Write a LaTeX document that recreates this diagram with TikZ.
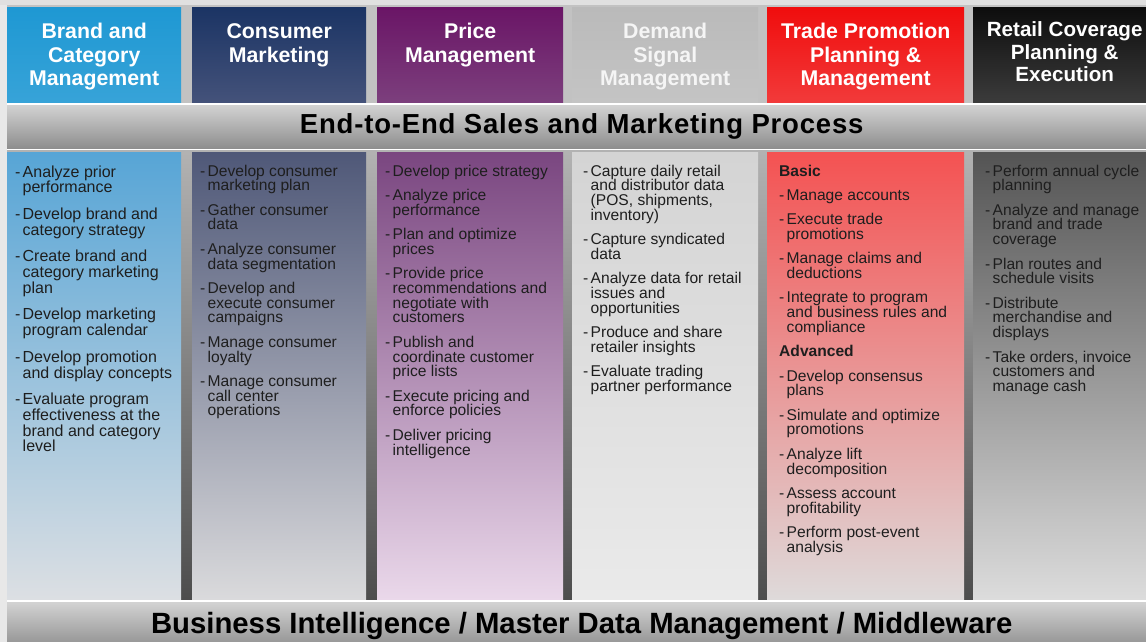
\documentclass[tikz,border=0pt]{standalone}
\usepackage{fontspec}
\setmainfont{Liberation Sans}
\usepackage{tikz}
\usetikzlibrary{positioning}

\definecolor{brandhead}{RGB}{30,152,211}
\definecolor{brandheadlow}{RGB}{55,163,216}
\definecolor{conshead}{RGB}{27,52,100}
\definecolor{consheadlow}{RGB}{68,82,122}
\definecolor{pricehead}{RGB}{106,21,102}
\definecolor{priceheadlow}{RGB}{124,63,125}
\definecolor{demandhead}{RGB}{186,186,186}
\definecolor{demandheadlow}{RGB}{196,196,196}
\definecolor{tradehead}{RGB}{240,13,13}
\definecolor{tradeheadlow}{RGB}{242,58,58}
\definecolor{retailhead}{RGB}{13,13,13}
\definecolor{retailheadlow}{RGB}{59,59,59}
\definecolor{brandbody}{RGB}{87,165,214}
\definecolor{brandbodylow}{RGB}{220,223,227}
\definecolor{consbody}{RGB}{79,88,120}
\definecolor{consbodylow}{RGB}{218,218,220}
\definecolor{pricebody}{RGB}{122,70,128}
\definecolor{pricebodylow}{RGB}{234,216,234}
\definecolor{demandbody}{RGB}{212,212,212}
\definecolor{demandbodylow}{RGB}{234,234,234}
\definecolor{tradebody}{RGB}{244,82,82}
\definecolor{tradebodymid}{RGB}{232,180,180}
\definecolor{tradebodylow}{RGB}{222,218,218}
\definecolor{retailbody}{RGB}{84,84,84}
\definecolor{retailbodymid}{RGB}{190,190,190}
\definecolor{retailbodylow}{RGB}{220,220,220}
\definecolor{ink}{RGB}{30,30,30}

\newlength{\itmgap}
\setlength{\itmgap}{9.5pt}
\newcommand{\itm}[1]{\hangindent=7.5pt\hangafter=1\noindent\makebox[7.5pt][l]{-}#1\par\vspace{\itmgap}}
\newcommand{\sect}[1]{\noindent\textbf{#1}\par\vspace{\itmgap}}
\lineskiplimit=-10pt

\tikzstyle{colbox} = [rectangle, inner sep=0pt, anchor=north west]
\tikzstyle{headbox} = [colbox, minimum height=95pt]
\tikzstyle{bodybox} = [colbox, minimum height=447pt]
\tikzstyle{headtitle} = [inner sep=0pt, anchor=base, text=white,
    font=\fontsize{21.3}{23.5}\selectfont\bfseries]
\tikzstyle{bodytext} = [inner sep=0pt, anchor=base west, text=ink,
    font=\fontsize{15.6}{14.8}\selectfont]
\tikzstyle{band} = [rectangle, inner sep=0pt, anchor=north west, minimum width=1149pt,
    top color=black!17, bottom color=black!45, text=black]

\begin{document}
\begin{tikzpicture}[x=1pt,y=-1pt]
                \useasboundingbox (0,0) rectangle (1146,642);
                \clip (0,0) rectangle (1146,642);
                \fill[black!24] (0,0) rectangle (1156,104);
                \fill[black!12] (0,0) rectangle (1156,5);
                \shade[top color=black!30, bottom color=black!70] (0,150) rectangle (1156,601);
                \fill[black!9] (0,5) rectangle (7,642);

                \node[headbox, minimum width=174pt, top color=brandhead, bottom color=brandheadlow] (h1) at (7,7) {};
                \node[headbox, minimum width=174pt, top color=conshead, bottom color=consheadlow] (h2) at (192,7) {};
                \node[headbox, minimum width=186pt, top color=pricehead, bottom color=priceheadlow] (h3) at (377,7) {};
                \node[headbox, minimum width=186pt, top color=demandhead, bottom color=demandheadlow] (h4) at (572,7) {};
                \node[headbox, minimum width=197pt, top color=tradehead, bottom color=tradeheadlow] (h5) at (767,7) {};
                \node[headbox, minimum width=183pt, top color=retailhead, bottom color=retailheadlow] (h6) at (973,7) {};

                \node[headtitle] (t1) at ([yshift=-32pt]h1.north) {\begin{minipage}[t]{174pt}\centering Brand and\\Category\\Management\end{minipage}};
                \node[headtitle] (t2) at ([yshift=-32pt]h2.north) {\begin{minipage}[t]{174pt}\centering Consumer\\Marketing\end{minipage}};
                \node[headtitle] (t3) at ([yshift=-32pt]h3.north) {\begin{minipage}[t]{186pt}\centering Price\\Management\end{minipage}};
                \node[headtitle, text=white!96!black] (t4) at ([yshift=-32pt]h4.north) {\begin{minipage}[t]{186pt}\centering Demand\\Signal\\Management\end{minipage}};
                \node[headtitle] (t5) at ([yshift=-32pt]h5.north) {\begin{minipage}[t]{197pt}\centering Trade Promotion\\Planning \&\\Management\end{minipage}};
                \node[headtitle, font=\fontsize{20.6}{22.5}\selectfont\bfseries] (t6) at ([yshift=-30pt]h6.north) {\begin{minipage}[t]{183pt}\centering Retail Coverage\\Planning \&\\Execution\end{minipage}};

                \node[band, minimum height=45pt, font=\fontsize{27.5}{30}\selectfont\bfseries\addfontfeature{LetterSpace=3}] (proc) at (7,104) {End-to-End Sales and Marketing Process};
                \draw[white, line width=1.2pt] (proc.north west) -- (proc.north east);
                \draw[white, line width=1.2pt] (proc.south west) -- (proc.south east);

                \node[bodybox, minimum width=174pt, top color=brandbody, bottom color=brandbodylow] (b1) at (7,152) {};
                \node[bodybox, minimum width=174pt, top color=consbody, bottom color=consbodylow] (b2) at (192,152) {};
                \node[bodybox, minimum width=186pt, top color=pricebody, bottom color=pricebodylow] (b3) at (377,152) {};
                \node[bodybox, minimum width=186pt, top color=demandbody, bottom color=demandbodylow] (b4) at (572,152) {};
                \node[bodybox, minimum width=197pt, top color=tradebody, middle color=tradebodymid, bottom color=tradebodylow] (b5) at (767,152) {};
                \node[bodybox, minimum width=183pt, top color=retailbody, middle color=retailbodymid, bottom color=retailbodylow] (b6) at (973,152) {};

                \node[bodytext, font=\fontsize{16}{15.7}\selectfont] (l1) at ([xshift=8pt,yshift=-25pt]b1.north west) {%
                    \begin{minipage}[t]{200pt}\setlength{\itmgap}{11pt}
                        \itm{Analyze prior\\performance}
                        \itm{Develop brand and\\category strategy}
                        \itm{Create brand and\\category marketing\\plan}
                        \itm{Develop marketing\\program calendar}
                        \itm{Develop promotion\\and display concepts}
                        \itm{Evaluate program\\effectiveness at the\\brand and category\\level}
                    \end{minipage}
                };
                \node[bodytext] (l2) at ([xshift=8pt,yshift=-24pt]b2.north west) {%
                    \begin{minipage}[t]{200pt}
                        \itm{Develop consumer\\marketing plan}
                        \itm{Gather consumer\\data}
                        \itm{Analyze consumer\\data segmentation}
                        \itm{Develop and\\execute consumer\\campaigns}
                        \itm{Manage consumer\\loyalty}
                        \itm{Manage consumer\\call center\\operations}
                    \end{minipage}
                };
                \node[bodytext] (l3) at ([xshift=8pt,yshift=-24pt]b3.north west) {%
                    \begin{minipage}[t]{200pt}
                        \itm{Develop price strategy}
                        \itm{Analyze price\\performance}
                        \itm{Plan and optimize\\prices}
                        \itm{Provide price\\recommendations and\\negotiate with\\customers}
                        \itm{Publish and\\coordinate customer\\price lists}
                        \itm{Execute pricing and\\enforce policies}
                        \itm{Deliver pricing\\intelligence}
                    \end{minipage}
                };
                \node[bodytext] (l4) at ([xshift=11pt,yshift=-24pt]b4.north west) {%
                    \begin{minipage}[t]{200pt}
                        \itm{Capture daily retail\\and distributor data\\(POS, shipments,\\inventory)}
                        \itm{Capture syndicated\\data}
                        \itm{Analyze data for retail\\issues and\\opportunities}
                        \itm{Produce and share\\retailer insights}
                        \itm{Evaluate trading\\partner performance}
                    \end{minipage}
                };
                \node[bodytext] (l5) at ([xshift=12pt,yshift=-24pt]b5.north west) {%
                    \begin{minipage}[t]{200pt}
                        \sect{Basic}
                        \itm{Manage accounts}
                        \itm{Execute trade\\promotions}
                        \itm{Manage claims and\\deductions}
                        \itm{Integrate to program\\and business rules and\\compliance}
                        \sect{Advanced}
                        \itm{Develop consensus\\plans}
                        \itm{Simulate and optimize\\promotions}
                        \itm{Analyze lift\\decomposition}
                        \itm{Assess account\\profitability}
                        \itm{Perform post-event\\analysis}
                    \end{minipage}
                };
                \node[bodytext] (l6) at ([xshift=12pt,yshift=-24pt]b6.north west) {%
                    \begin{minipage}[t]{200pt}
                        \itm{Perform annual cycle\\planning}
                        \itm{Analyze and manage\\brand and trade\\coverage}
                        \itm{Plan routes and\\schedule visits}
                        \itm{Distribute\\merchandise and\\displays}
                        \itm{Take orders, invoice\\customers and\\manage cash}
                    \end{minipage}
                };

                \node[band, minimum height=49pt, font=\fontsize{29.3}{32}\selectfont\bfseries] (base) at (7,601) {Business Intelligence / Master Data Management / Middleware};
                \draw[white, line width=1.2pt] (base.north west) -- (base.north east);
            \end{tikzpicture}
\end{document}
